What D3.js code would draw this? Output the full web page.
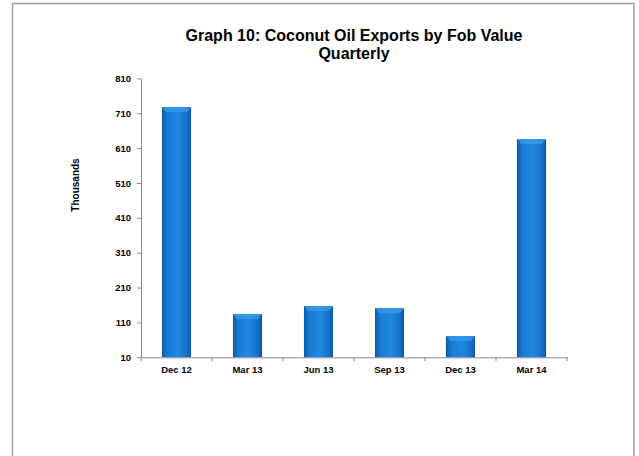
<!DOCTYPE html>
<html><head><meta charset="utf-8">
<script src="https://cdn.jsdelivr.net/npm/d3@7"></script>
<style>body{margin:0;background:#fff;}svg{display:block;font-family:"Liberation Sans",Arial,sans-serif;}</style>
</head><body>
<script>
const categories = ["Dec 12","Mar 13","Jun 13","Sep 13","Dec 13","Mar 14"];
const values = [728, 134, 157, 151, 71, 636];
const yTicks = [10,110,210,310,410,510,610,710,810];
const titleLines = ["Graph 10: Coconut Oil Exports by Fob Value","Quarterly"];
const yLabel = "Thousands";

const W = 639, H = 456;
const svg = d3.select("body").append("svg").attr("width", W).attr("height", H);

const defs = svg.append("defs");
const g1 = defs.append("linearGradient").attr("id","barg").attr("x1","0").attr("x2","1").attr("y1","0").attr("y2","0");
g1.append("stop").attr("offset","0").attr("stop-color","#0d5aa8");
g1.append("stop").attr("offset","0.2").attr("stop-color","#1a7bd2");
g1.append("stop").attr("offset","0.55").attr("stop-color","#2188e0");
g1.append("stop").attr("offset","0.85").attr("stop-color","#1670c6");
g1.append("stop").attr("offset","1").attr("stop-color","#0d58a4");

// outer border
svg.append("rect").attr("x",12.5).attr("y",3.5).attr("width",621.5).attr("height",470)
  .attr("fill","none").attr("stroke","#a0a0a0").attr("stroke-width",1.5);

const x = d3.scaleBand().domain(categories).range([141,567]).padding(0);
const y = d3.scaleLinear().domain([10,810]).range([357.3,78.4]);

// title
svg.append("g").selectAll("text").data(titleLines).join("text")
  .attr("x",354).attr("y",(d,i)=>41+i*18).attr("text-anchor","middle")
  .attr("font-size","16px").attr("font-weight","bold").attr("fill","#000").text(d=>d);

// y label
svg.append("text").attr("transform","translate(79,185) rotate(-90)").attr("text-anchor","middle")
  .attr("font-size","10px").attr("font-weight","bold").text(yLabel);

// bars
const bw = x.bandwidth()*0.41;
const bars = svg.append("g");
bars.selectAll("rect").data(values).join("rect")
  .attr("x",(d,i)=>x(categories[i])+x.bandwidth()/2-bw/2)
  .attr("y",d=>y(d))
  .attr("width",bw)
  .attr("height",d=>y(10)-y(d))
  .attr("fill","url(#barg)");
// top bevel highlight
bars.selectAll("path").data(values).join("path")
  .attr("d",(d,i)=>{const x0=x(categories[i])+x.bandwidth()/2-bw/2, y0=y(d);
    return `M${x0},${y0}L${x0+bw},${y0}L${x0+bw-4},${y0+5}L${x0+4},${y0+5}Z`;})
  .attr("fill","#3a9cec").attr("opacity",0.7);

// y axis
const ya = svg.append("g").attr("transform","translate(141,0)")
  .call(d3.axisLeft(y).tickValues(yTicks).tickSize(4).tickSizeOuter(0).tickPadding(6));
ya.select(".domain").attr("stroke","#888");
ya.selectAll(".tick line").attr("stroke","#888");
ya.selectAll("text").attr("font-size","9.5px").attr("font-weight","bold").attr("fill","#000")
  .attr("font-family","'Liberation Sans',Arial,sans-serif");

// x axis
const xa = svg.append("g").attr("transform",`translate(0,${y(10)})`)
  .call(d3.axisBottom(x).tickSize(0).tickPadding(9));
xa.select(".domain").attr("stroke","#888");
xa.selectAll("text").attr("font-size","9.5px").attr("font-weight","bold").attr("fill","#000")
  .attr("font-family","'Liberation Sans',Arial,sans-serif");
xa.append("g").selectAll("line").data(d3.range(categories.length+1)).join("line")
  .attr("x1",i=>141+i*x.step()).attr("x2",i=>141+i*x.step()).attr("y1",0).attr("y2",4).attr("stroke","#888");
</script>
</body></html>
